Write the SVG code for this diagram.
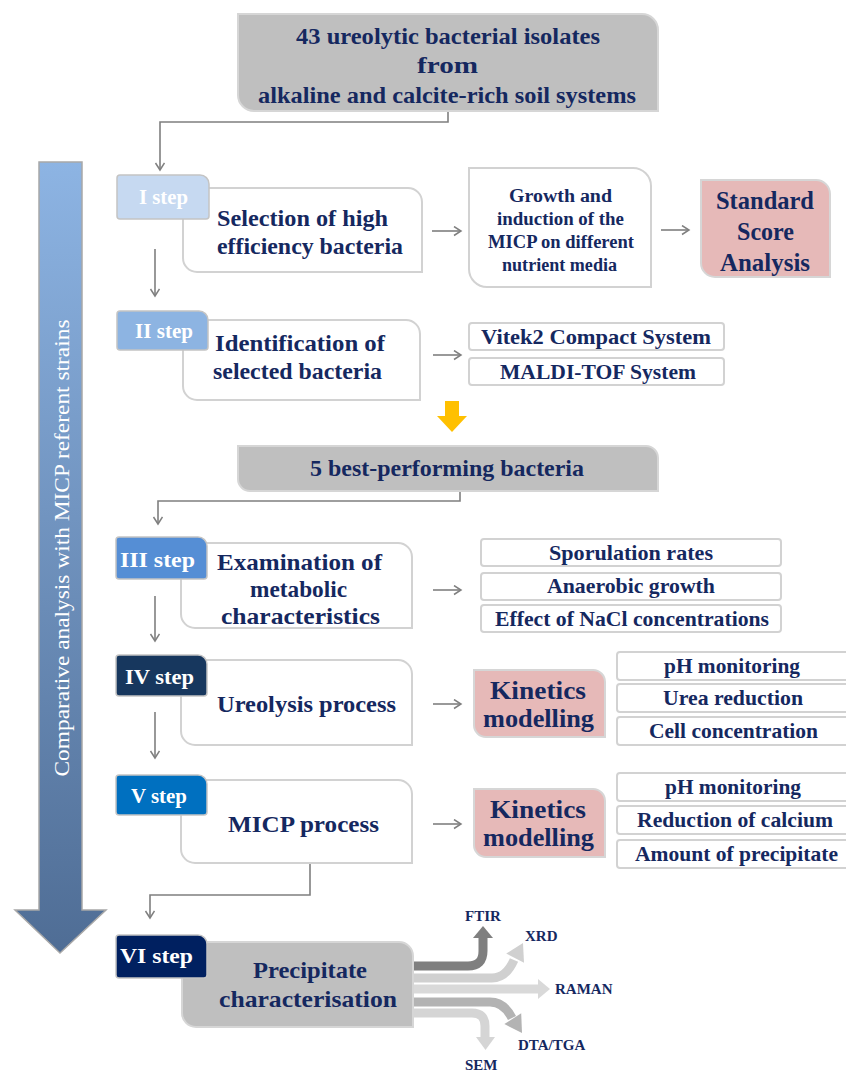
<svg xmlns="http://www.w3.org/2000/svg" width="846" height="1073" viewBox="0 0 846 1073">
<defs>
<style>
.t{font-family:"Liberation Serif","Times New Roman",serif;font-weight:bold;fill:#15285f;}
.w{fill:#ffffff;}
.f24{font-size:24px}.f25{font-size:25px}.f21{font-size:21px}.f18{font-size:18px}.f15{font-size:15px}
.box{fill:#ffffff;stroke:#d2d2d2;stroke-width:2}
.gbox{fill:#bfbfbf;stroke:#d6d6d6;stroke-width:2}
.pink{fill:#e6b9b8;stroke:#d6d6d6;stroke-width:2}
.lst{fill:#ffffff;stroke:#d2d2d2;stroke-width:2}
.tag{stroke:#c4c4c4;stroke-width:1.5}
.conn{fill:none;stroke:#7f7f7f;stroke-width:1.6}
.band{fill:none;stroke-width:9}
</style>
<marker id="ah" markerWidth="12" markerHeight="12" refX="8" refY="5" orient="auto" markerUnits="userSpaceOnUse">
<path d="M1,0.5 L8,5 L1,9.5" fill="none" stroke="#7f7f7f" stroke-width="1.5"/>
</marker>
<linearGradient id="bg" x1="0" y1="162" x2="0" y2="953" gradientUnits="userSpaceOnUse">
<stop offset="0" stop-color="#8db4e3"/>
<stop offset="1" stop-color="#4f6d95"/>
</linearGradient>
</defs>
<rect width="846" height="1073" fill="#ffffff"/>

<g id="side-arrow">
<path d="M39,162 H82 V910 H106 L60,953 L15,910 H39 Z" fill="url(#bg)" stroke="#a8a8a8" stroke-width="1.5"/>
<text class="w" transform="translate(62,548) rotate(-90)" x="0" y="7" text-anchor="middle" font-family="Liberation Serif, Times New Roman, serif" font-size="22" textLength="457" lengthAdjust="spacingAndGlyphs">Comparative analysis with MICP referent strains</text>
</g>

<g id="connectors">
<polyline class="conn" points="448,111 448,122 160,122 160,170" marker-end="url(#ah)"/>
<line class="conn" x1="155" y1="249" x2="155" y2="296" marker-end="url(#ah)"/>
<line class="conn" x1="432" y1="231" x2="461" y2="231" marker-end="url(#ah)"/>
<line class="conn" x1="661" y1="230" x2="689" y2="230" marker-end="url(#ah)"/>
<line class="conn" x1="433" y1="355" x2="461" y2="355" marker-end="url(#ah)"/>
<polygon points="445,401 459,401 459,416 467,416 452,432 437,416 445,416" fill="#ffc000"/>
<polyline class="conn" points="460,491 460,501 158,501 158,524" marker-end="url(#ah)"/>
<line class="conn" x1="433" y1="590" x2="461" y2="590" marker-end="url(#ah)"/>
<line class="conn" x1="155" y1="596" x2="155" y2="641" marker-end="url(#ah)"/>
<line class="conn" x1="433" y1="704" x2="461" y2="704" marker-end="url(#ah)"/>
<line class="conn" x1="155" y1="712" x2="155" y2="758" marker-end="url(#ah)"/>
<line class="conn" x1="433" y1="824" x2="461" y2="824" marker-end="url(#ah)"/>
<polyline class="conn" points="310,863 310,895 150,895 150,918" marker-end="url(#ah)"/>
</g>

<g id="source">
<path class="gbox" d="M238,14 H642 A16,16 0 0 1 658,30 V111 H254 A16,16 0 0 1 238,95 Z"/>
<text class="t f24" x="296" y="44" textLength="304" lengthAdjust="spacingAndGlyphs">43 ureolytic bacterial isolates</text>
<text class="t f24" x="417" y="73" textLength="61" lengthAdjust="spacingAndGlyphs">from</text>
<text class="t f24" x="258" y="103" textLength="378" lengthAdjust="spacingAndGlyphs">alkaline and calcite-rich soil systems</text>
</g>

<g id="step1">
<path class="box" d="M183,188 H408 A14,14 0 0 1 422,202 V272 H197 A14,14 0 0 1 183,258 Z"/>
<path class="tag" fill="#c6d9f1" d="M120,175 H200 A9,9 0 0 1 209,184 V216 Q209,219 206,219 H120 Q117,219 117,216 V178 Q117,175 120,175 Z"/>
<text class="t w f21" x="139" y="204" textLength="49" lengthAdjust="spacingAndGlyphs">I step</text>
<text class="t f24" x="217" y="226" textLength="171" lengthAdjust="spacingAndGlyphs">Selection of high</text>
<text class="t f24" x="217" y="254" textLength="186" lengthAdjust="spacingAndGlyphs">efficiency  bacteria</text>
</g>

<g id="growth">
<path class="box" d="M469,168 H633 A18,18 0 0 1 651,186 V287 H487 A18,18 0 0 1 469,269 Z"/>
<text class="t f18" x="509" y="202" textLength="103" lengthAdjust="spacingAndGlyphs">Growth and</text>
<text class="t f18" x="497" y="225" textLength="127" lengthAdjust="spacingAndGlyphs">induction of the</text>
<text class="t f18" x="488" y="248" textLength="146" lengthAdjust="spacingAndGlyphs">MICP on different</text>
<text class="t f18" x="502" y="271" textLength="115" lengthAdjust="spacingAndGlyphs">nutrient media</text>
</g>

<g id="standard-score">
<path class="pink" d="M701,180 H816 A14,14 0 0 1 830,194 V277 H715 A14,14 0 0 1 701,263 Z"/>
<text class="t f25" x="716" y="209" textLength="98" lengthAdjust="spacingAndGlyphs">Standard</text>
<text class="t f25" x="737" y="240" textLength="57" lengthAdjust="spacingAndGlyphs">Score</text>
<text class="t f25" x="720" y="271" textLength="90" lengthAdjust="spacingAndGlyphs">Analysis</text>
</g>

<g id="step2">
<path class="box" d="M183,320 H406 A14,14 0 0 1 420,334 V400 H197 A14,14 0 0 1 183,386 Z"/>
<path class="tag" fill="#8db4e2" d="M120,311 H199 A9,9 0 0 1 208,320 V347 Q208,350 205,350 H120 Q117,350 117,347 V314 Q117,311 120,311 Z"/>
<text class="t w f21" x="135" y="338" textLength="58" lengthAdjust="spacingAndGlyphs">II step</text>
<text class="t f24" x="215" y="351" textLength="170" lengthAdjust="spacingAndGlyphs">Identification of</text>
<text class="t f24" x="213" y="379" textLength="169" lengthAdjust="spacingAndGlyphs">selected bacteria</text>
</g>

<g id="vitek">
<rect class="lst" x="469" y="323" width="255" height="27" rx="3"/>
<text class="t f21" x="481" y="344" textLength="230" lengthAdjust="spacingAndGlyphs">Vitek2 Compact  System</text>
</g>
<g id="maldi">
<rect class="lst" x="469" y="358" width="255" height="27" rx="3"/>
<text class="t f21" x="500" y="379" textLength="196" lengthAdjust="spacingAndGlyphs">MALDI-TOF System</text>
</g>

<g id="best5">
<path class="gbox" d="M238,446 H646 A12,12 0 0 1 658,458 V491 H250 A12,12 0 0 1 238,479 Z"/>
<text class="t f24" x="310" y="476" textLength="274" lengthAdjust="spacingAndGlyphs">5 best-performing bacteria</text>
</g>

<g id="step3">
<path class="box" d="M181,543 H398 A14,14 0 0 1 412,557 V628 H195 A14,14 0 0 1 181,614 Z"/>
<path class="tag" fill="#558ed5" d="M119,537 H198 A9,9 0 0 1 207,546 V576 Q207,579 204,579 H119 Q116,579 116,576 V540 Q116,537 119,537 Z"/>
<text class="t w f21" x="120" y="567" textLength="75" lengthAdjust="spacingAndGlyphs">III step</text>
<text class="t f24" x="217" y="570" textLength="165" lengthAdjust="spacingAndGlyphs">Examination of</text>
<text class="t f24" x="250" y="597" textLength="97" lengthAdjust="spacingAndGlyphs">metabolic</text>
<text class="t f24" x="221" y="624" textLength="159" lengthAdjust="spacingAndGlyphs">characteristics</text>
</g>

<g id="sporulation">
<rect class="lst" x="481" y="539" width="300" height="27" rx="3"/>
<text class="t f21" x="549" y="560" textLength="164" lengthAdjust="spacingAndGlyphs">Sporulation rates</text>
</g>
<g id="anaerobic">
<rect class="lst" x="481" y="573" width="300" height="27" rx="3"/>
<text class="t f21" x="547" y="593" textLength="168" lengthAdjust="spacingAndGlyphs">Anaerobic growth</text>
</g>
<g id="nacl">
<rect class="lst" x="481" y="605" width="300" height="27" rx="3"/>
<text class="t f21" x="495" y="626" textLength="274" lengthAdjust="spacingAndGlyphs">Effect of NaCl concentrations</text>
</g>

<g id="step4">
<path class="box" d="M181,660 H398 A14,14 0 0 1 412,674 V745 H195 A14,14 0 0 1 181,731 Z"/>
<path class="tag" fill="#17375e" d="M119,655 H198 A9,9 0 0 1 207,664 V693 Q207,696 204,696 H119 Q116,696 116,693 V658 Q116,655 119,655 Z"/>
<text class="t w f21" x="125" y="684" textLength="69" lengthAdjust="spacingAndGlyphs">IV step</text>
<text class="t f24" x="217" y="712" textLength="179" lengthAdjust="spacingAndGlyphs">Ureolysis process</text>
</g>

<g id="kinetics4">
<path class="pink" d="M474,670 H593 A12,12 0 0 1 605,682 V737 H486 A12,12 0 0 1 474,725 Z"/>
<text class="t f25" x="490" y="699" textLength="96" lengthAdjust="spacingAndGlyphs">Kinetics</text>
<text class="t f25" x="483" y="727" textLength="111" lengthAdjust="spacingAndGlyphs">modelling</text>
</g>

<g id="ph4">
<rect class="lst" x="617" y="652" width="245" height="28" rx="3"/>
<text class="t f21" x="664" y="673" textLength="136" lengthAdjust="spacingAndGlyphs">pH monitoring</text>
</g>
<g id="urea">
<rect class="lst" x="617" y="684" width="245" height="28" rx="3"/>
<text class="t f21" x="663" y="705" textLength="140" lengthAdjust="spacingAndGlyphs">Urea reduction</text>
</g>
<g id="cell">
<rect class="lst" x="617" y="717" width="245" height="28" rx="3"/>
<text class="t f21" x="649" y="738" textLength="169" lengthAdjust="spacingAndGlyphs">Cell concentration</text>
</g>

<g id="step5">
<path class="box" d="M181,780 H398 A14,14 0 0 1 412,794 V863 H195 A14,14 0 0 1 181,849 Z"/>
<path class="tag" fill="#0070c0" d="M119,775 H198 A9,9 0 0 1 207,784 V812 Q207,815 204,815 H119 Q116,815 116,812 V778 Q116,775 119,775 Z"/>
<text class="t w f21" x="131" y="803" textLength="56" lengthAdjust="spacingAndGlyphs">V step</text>
<text class="t f24" x="228" y="832" textLength="151" lengthAdjust="spacingAndGlyphs">MICP process</text>
</g>

<g id="kinetics5">
<path class="pink" d="M474,789 H593 A12,12 0 0 1 605,801 V857 H486 A12,12 0 0 1 474,845 Z"/>
<text class="t f25" x="490" y="818" textLength="96" lengthAdjust="spacingAndGlyphs">Kinetics</text>
<text class="t f25" x="483" y="846" textLength="111" lengthAdjust="spacingAndGlyphs">modelling</text>
</g>

<g id="ph5">
<rect class="lst" x="617" y="773" width="245" height="28" rx="3"/>
<text class="t f21" x="665" y="794" textLength="136" lengthAdjust="spacingAndGlyphs">pH monitoring</text>
</g>
<g id="calcium">
<rect class="lst" x="617" y="806" width="245" height="28" rx="3"/>
<text class="t f21" x="637" y="827" textLength="196" lengthAdjust="spacingAndGlyphs">Reduction of calcium</text>
</g>
<g id="precipitate-amount">
<rect class="lst" x="617" y="840" width="245" height="28" rx="3"/>
<text class="t f21" x="635" y="861" textLength="203" lengthAdjust="spacingAndGlyphs">Amount of precipitate</text>
</g>

<g id="step6">
<g id="fat-arrows">
<path class="band" stroke="#d5d5d5" d="M410,1013 H472 Q485,1013 485,1026 V1039"/>
<polygon fill="#d5d5d5" points="476,1037 495,1037 485.5,1050"/>
<path class="band" stroke="#b3b3b3" d="M410,1002 H490 Q504,1002 512,1018"/>
<polygon fill="#b3b3b3" points="521.2,1013.3 504.4,1024.1 522,1033"/>
<path class="band" stroke="#d9d9d9" d="M410,989 H540"/>
<polygon fill="#d9d9d9" points="538,979 538,999 550,989"/>
<path class="band" stroke="#d0d0d0" d="M410,978 H492 Q506,978 514,960"/>
<polygon fill="#d0d0d0" points="506.2,953.5 524,962.7 523,943"/>
<path class="band" stroke="#7f7f7f" d="M410,966 H468 Q483,966 483,951 V936"/>
<polygon fill="#7f7f7f" points="473,938 493,938 483,926"/>
</g>
<path class="gbox" d="M182,942 H399 A14,14 0 0 1 413,956 V1027 H196 A14,14 0 0 1 182,1013 Z"/>
<path class="tag" fill="#002060" d="M119,935 H198 A9,9 0 0 1 207,944 V975 Q207,978 204,978 H119 Q116,978 116,975 V938 Q116,935 119,935 Z"/>
<text class="t w f21" x="120" y="963" textLength="73" lengthAdjust="spacingAndGlyphs">VI step</text>
<text class="t f24" x="253" y="978" textLength="114" lengthAdjust="spacingAndGlyphs">Precipitate</text>
<text class="t f24" x="219" y="1007" textLength="178" lengthAdjust="spacingAndGlyphs">characterisation</text>
</g>

<g id="labels">
<text class="t f15" x="465" y="921">FTIR</text>
<text class="t f15" x="525" y="941">XRD</text>
<text class="t f15" x="555" y="994">RAMAN</text>
<text class="t f15" x="518" y="1050">DTA/TGA</text>
<text class="t f15" x="465" y="1070">SEM</text>
</g>
</svg>
